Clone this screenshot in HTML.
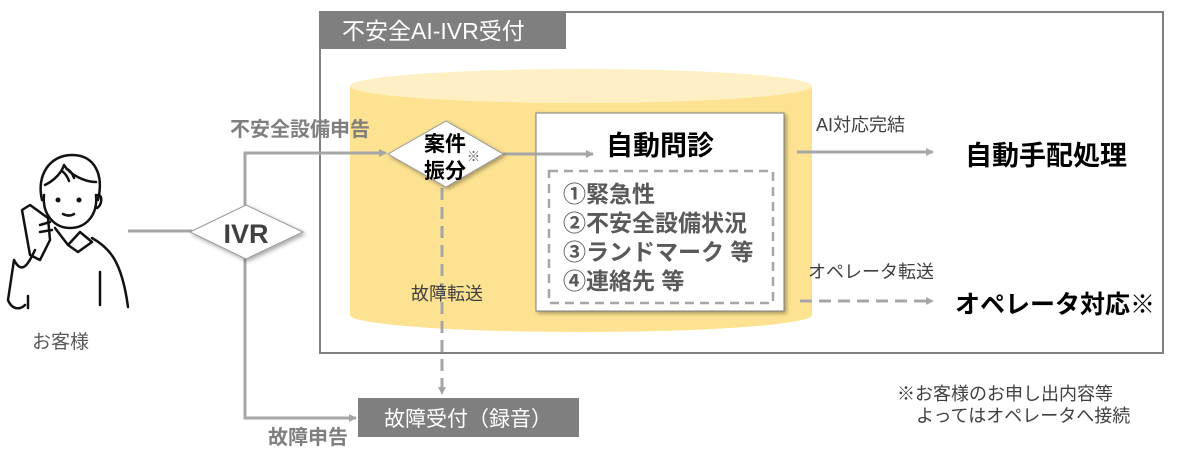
<!DOCTYPE html>
<html><head><meta charset="utf-8"><style>
body{margin:0;background:#fff;}
svg text{font-family:"Liberation Sans","Noto Sans CJK JP",sans-serif;}
</style></head><body>
<svg width="1179" height="455" viewBox="0 0 1179 455" xmlns="http://www.w3.org/2000/svg">
<defs>
<marker id="ah" markerWidth="8" markerHeight="8" refX="7" refY="4" orient="auto" markerUnits="userSpaceOnUse"><path d="M0,0 L8,4 L0,8 z" fill="#a6a6a6"/></marker>
<filter id="sh" x="-10%" y="-10%" width="130%" height="130%"><feDropShadow dx="2" dy="2" stdDeviation="2" flood-color="#000" flood-opacity="0.35"/></filter>
</defs>
<rect x="320" y="12" width="843" height="341" fill="none" stroke="#808080" stroke-width="2"/>
<rect x="319" y="11" width="247" height="38" fill="#7f7f7f"/>
<text x="342" y="39" font-size="23" fill="#fff">不安全AI-IVR受付</text>
<path d="M350,86 L350,315 A231,17 0 0 0 812,315 L812,86 Z" fill="#fde391"/>
<ellipse cx="581" cy="86" rx="231" ry="17" fill="#fef0c4"/>
<rect x="536" y="113" width="248" height="198" fill="#fff" stroke="#7f7f7f" stroke-width="1" filter="url(#sh)"/>
<text x="660" y="155" font-size="27" font-weight="bold" fill="#000" text-anchor="middle">自動問診</text>
<rect x="549" y="171" width="224" height="132" fill="none" stroke="#a6a6a6" stroke-width="2.5" stroke-dasharray="9,6"/>
<g font-size="23" font-weight="bold" fill="#595959">
<text x="563" y="202">①緊急性</text>
<text x="563" y="231">②不安全設備状況</text>
<text x="563" y="260">③ランドマーク 等</text>
<text x="563" y="289">④連絡先 等</text>
</g>
<g stroke="#a6a6a6" stroke-width="3" fill="none">
<line x1="128" y1="231" x2="192" y2="231"/>
<polyline points="245,206 245,153 386,153" marker-end="url(#ah)"/>
<polyline points="245,258 245,418 356,418" marker-end="url(#ah)"/>
<line x1="503" y1="154" x2="593" y2="154" marker-end="url(#ah)"/>
<line x1="442" y1="188" x2="442" y2="394" stroke-dasharray="12,7" marker-end="url(#ah)"/>
<line x1="797" y1="152" x2="933" y2="152" marker-end="url(#ah)"/>
<line x1="800" y1="301" x2="933" y2="301" stroke-dasharray="12,7" marker-end="url(#ah)"/>
</g>
<polygon points="190,232 246,205 303,232 246,259" fill="#fff" stroke="#999" stroke-width="1" filter="url(#sh)"/>
<text x="246" y="243" font-size="27" font-weight="bold" fill="#404040" text-anchor="middle">IVR</text>
<polygon points="388,154 446,121 503,154 446,187" fill="#fff" stroke="#999" stroke-width="1" filter="url(#sh)"/>
<text x="424" y="151" font-size="21" font-weight="bold" fill="#000">案件</text>
<text x="424" y="178" font-size="21" font-weight="bold" fill="#000">振分</text>
<text x="467" y="161" font-size="13" fill="#555">※</text>
<text x="230" y="136" font-size="20" font-weight="bold" fill="#7f7f7f">不安全設備申告</text>
<text x="268" y="444" font-size="20" font-weight="bold" fill="#7f7f7f">故障申告</text>
<text x="411" y="300" font-size="18" fill="#404040">故障転送</text>
<rect x="358" y="398" width="221" height="39" fill="#7f7f7f"/>
<text x="468" y="426" font-size="21" fill="#fff" text-anchor="middle">故障受付（録音）</text>
<text x="816" y="131" font-size="18" fill="#404040">AI対応完結</text>
<text x="965" y="165" font-size="27" font-weight="bold" fill="#000">自動手配処理</text>
<text x="808" y="278" font-size="18" fill="#404040">オペレータ転送</text>
<text x="955" y="313" font-size="25" font-weight="bold" fill="#000">オペレータ対応※</text>
<text x="897" y="400" font-size="18" fill="#404040">※お客様のお申し出内容等</text>
<text x="916" y="422" font-size="18" fill="#404040">よってはオペレータへ接続</text>
<text x="32" y="348" font-size="19" fill="#595959">お客様</text>
<g stroke="#111" stroke-width="2.5" fill="none" stroke-linecap="round" stroke-linejoin="round">
<path d="M42,200 C36,175 50,155 72,155 C95,155 104,175 98,200"/>
<path d="M45,185 C55,180 62,172 64,165 C70,175 85,182 96,182"/>
<path d="M44,195 C42,215 55,228 70,228 C86,228 98,215 96,195"/>
<path d="M98,195 C103,195 102,205 97,208"/>
<path d="M62,171 C66,174 68,178 69,181"/><path d="M67,169 C71,171 73,175 74,178"/>
<path d="M63,214 C67,216 71,216 74,214"/>
<path d="M55,228 L68,245 L80,232 L92,242 M68,245 L78,252 L92,242"/>
<path d="M92,238 C110,248 122,262 128,307"/>
<path d="M100,272 L100,305"/>
<path d="M30,205 L22,210 L30,255 L40,260 L50,240 L48,218 Z"/>
<path d="M35,250 C28,265 22,275 14,260 L8,300 C12,310 20,310 25,305"/>
<path d="M28,296 L28,308"/>
<path d="M40,225 L50,222 M40,232 L52,230"/>
</g>
<circle cx="58" cy="200" r="2.5" fill="#111"/><circle cx="79" cy="200" r="2.5" fill="#111"/>
</svg>
</body></html>
